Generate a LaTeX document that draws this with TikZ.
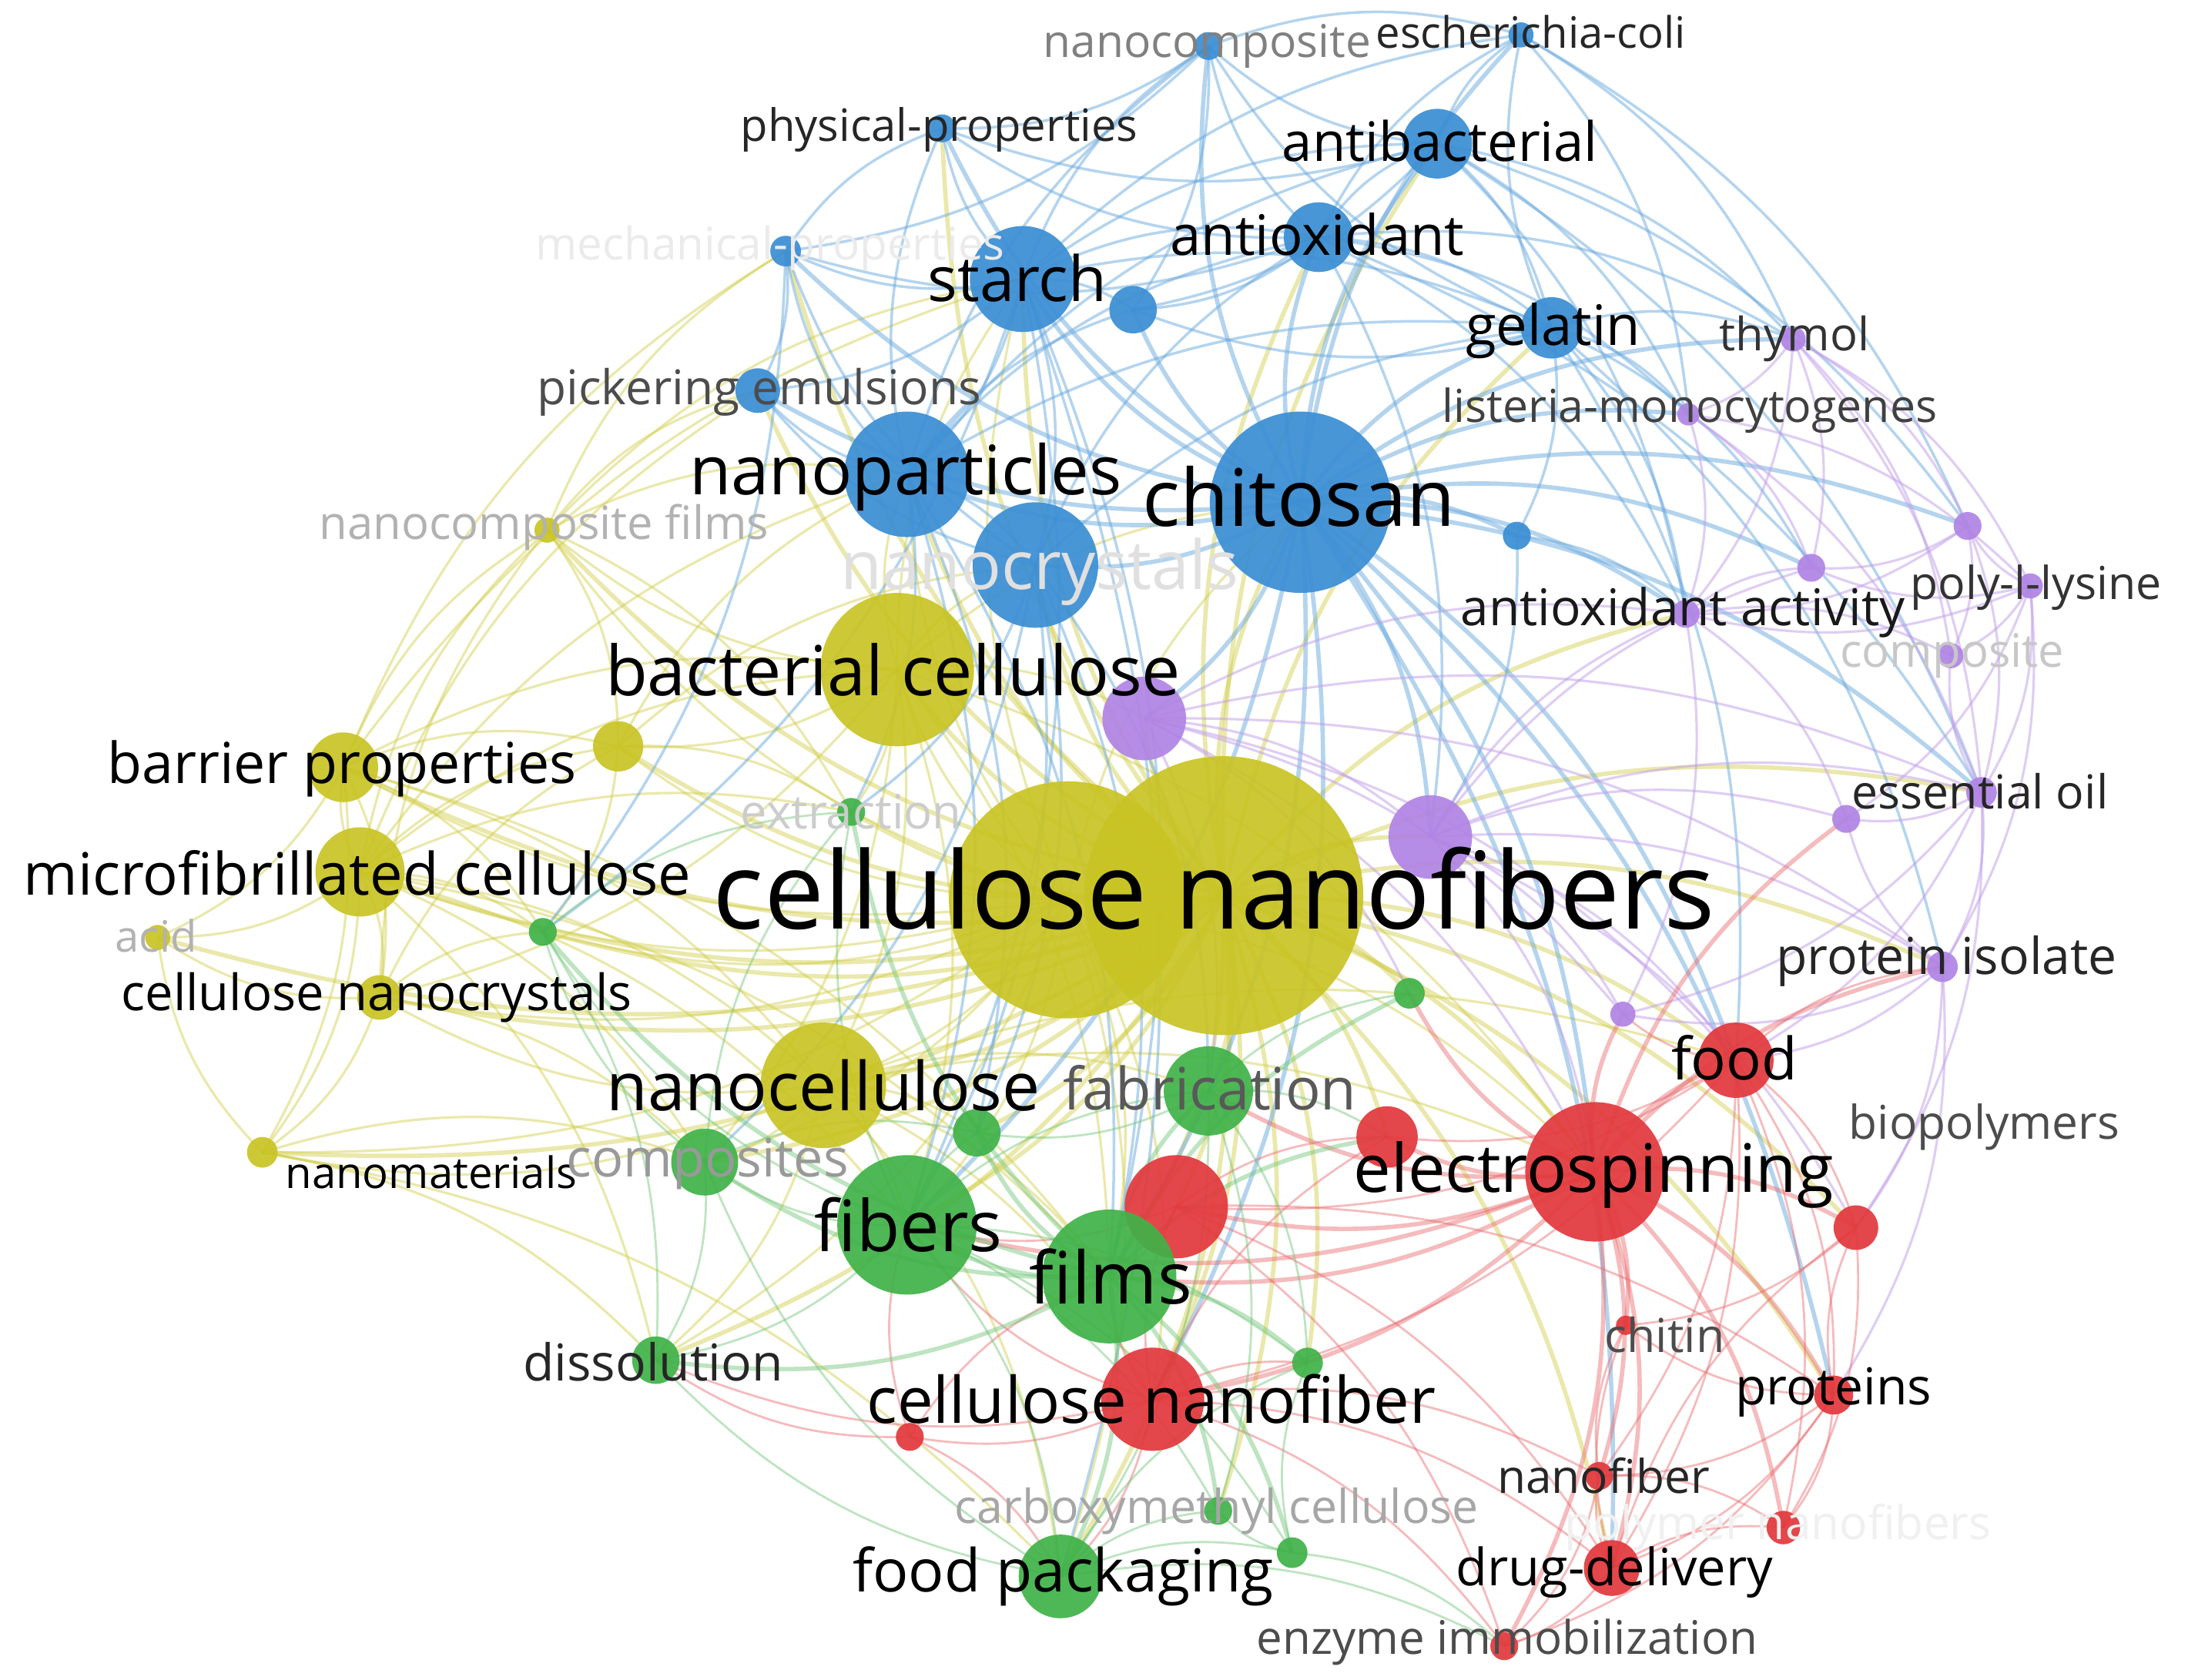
\documentclass[tikz,border=0pt]{standalone}
\usepackage{fontspec}
\setmainfont{Open Sans}
\usetikzlibrary{backgrounds}
\pgfdeclarelayer{bottom}
\pgfsetlayers{bottom,background,main}
\definecolor{cY}{RGB}{201,196,36}
\definecolor{cB}{RGB}{58,142,212}
\definecolor{cG}{RGB}{64,178,72}
\definecolor{cR}{RGB}{226,56,60}
\definecolor{cP}{RGB}{176,132,228}
\tikzset{
 kwn/.style={circle,inner sep=0pt,draw=none,fill opacity=0.92},
 lbl/.style={inner sep=0pt,anchor=center},
 eY/.style={draw=cY!85!white,opacity=0.45,line width=0.9pt},
 eB/.style={draw=cB!75!white,opacity=0.5,line width=1pt},
 eG/.style={draw=cG!75!white,opacity=0.45,line width=0.8pt},
 eR/.style={draw=cR!75!white,opacity=0.45,line width=0.8pt},
 eP/.style={draw=cP!80!white,opacity=0.5,line width=0.9pt},
 thick edge/.style={line width=1.6pt}
}
\newcommand\kw[4]{\node[kwn,fill=#4,minimum size=#3*0.03624cm] (#1) at (#2) {};}
\newcommand\lab[5]{\node[lbl,text=#4,font=\fontsize{#3pt}{#3pt}\selectfont] (l-#1) at (#2) {#5};}
\newcommand\edges[3]{\foreach \t in {#3} \draw[#2] (#1.center) to[bend left=18] (\t.center);}
\begin{document}
\begin{tikzpicture}[x=0.01812cm,y=-0.01812cm]
\begin{pgfonlayer}{bottom}
\fill[white] (0,0) rectangle (1568,1204);
\end{pgfonlayer}
\useasboundingbox (0,0) rectangle (1568,1204);
% ---- keyword nodes ----
% yellow
\kw{cnf2}{765,645}{85}{cY}
\kw{cnf}{877,642}{100}{cY}
\kw{bc}{643,480}{55}{cY}
\kw{nanocell}{590,778}{45}{cY}
\kw{mfc}{258,625}{32}{cY}
\kw{barrier}{246,550}{25}{cY}
\kw{yel1}{443,535}{18}{cY}
\kw{cnc}{272,715}{16}{cY}
\kw{nanomat}{188,826}{11}{cY}
\kw{acid}{113,672}{9}{cY}
\kw{ncfilms}{392,380}{9}{cY}
% blue
\kw{chitosan}{932,360}{65}{cB}
\kw{ncryst}{742,405}{45}{cB}
\kw{nanopart}{650,340}{45}{cB}
\kw{starch}{733,200}{38}{cB}
\kw{antiox}{945,170}{25}{cB}
\kw{antibac}{1030,103}{25}{cB}
\kw{gelatin}{1112,235}{22}{cB}
\kw{blu1}{812,222}{17}{cB}
\kw{pickering}{543,280}{16}{cB}
\kw{mech}{563,180}{11}{cB}
\kw{phys}{675,92}{10}{cB}
\kw{ncomp}{866,33}{10}{cB}
\kw{ecoli}{1090,25}{9}{cB}
\kw{blu2}{1087,384}{10}{cB}
% purple
\kw{pur1}{820,515}{30}{cP}
\kw{pur2}{1025,600}{30}{cP}
\kw{thymol}{1285,243}{9}{cP}
\kw{listeria}{1210,297}{8}{cP}
\kw{aoact}{1208,440}{10}{cP}
\kw{pll}{1455,420}{9}{cP}
\kw{pur3}{1410,377}{10}{cP}
\kw{pur4}{1298,407}{10}{cP}
\kw{composite}{1398,470}{9}{cP}
\kw{essoil}{1420,568}{11}{cP}
\kw{pur5}{1323,587}{10}{cP}
\kw{protiso}{1392,693}{11}{cP}
\kw{pur6}{1163,727}{9}{cP}
% red
\kw{electro}{1143,840}{50}{cR}
\kw{food}{1244,760}{27}{cR}
\kw{red1}{994,815}{22}{cR}
\kw{red2}{843,865}{37}{cR}
\kw{cnfiber}{826,1003}{37}{cR}
\kw{biopoly}{1330,880}{16}{cR}
\kw{chitin}{1165,950}{7}{cR}
\kw{proteins}{1314,1000}{14}{cR}
\kw{nanofiber}{1146,1058}{10}{cR}
\kw{drug}{1155,1124}{20}{cR}
\kw{polynf}{1278,1095}{12}{cR}
\kw{enzyme}{1078,1180}{10}{cR}
\kw{red3}{652,1030}{10}{cR}
% green
\kw{films}{795,915}{48}{cG}
\kw{fibers}{650,878}{50}{cG}
\kw{fabric}{866,782}{32}{cG}
\kw{foodpack}{760,1130}{30}{cG}
\kw{composites}{505,833}{24}{cG}
\kw{grn1}{700,812}{17}{cG}
\kw{dissol}{470,975}{17}{cG}
\kw{grn2}{389,668}{10}{cG}
\kw{extract}{610,582}{10}{cG}
\kw{grn3}{1010,712}{11}{cG}
\kw{grn4}{937,977}{11}{cG}
\kw{cmc}{873,1083}{10}{cG}
\kw{grn5}{926,1113}{11}{cG}
% ---- connectors ----
\begin{pgfonlayer}{background}
\edges{cnf}{eY,thick edge}{bc,nanocell,mfc,barrier,yel1,cnc,nanomat,acid,ncfilms,chitosan,ncryst,nanopart,starch,antiox,antibac,gelatin,pickering,mech,phys,pur1,pur2,aoact,essoil,protiso,electro,food,red1,red2,cnfiber,biopoly,proteins,drug,films,fibers,fabric,foodpack,composites,grn1,dissol,grn2,extract,grn3,grn4,cmc}
\edges{cnf2}{eY}{bc,nanocell,mfc,barrier,yel1,cnc,nanomat,ncfilms,chitosan,nanopart,starch,fibers,films,composites,dissol,grn2,electro,cnfiber,foodpack}
\edges{mfc}{eY}{barrier,yel1,cnc,nanomat,acid,ncfilms,bc,nanocell,grn2,composites,fibers,films,extract,pickering,dissol,nanopart}
\edges{barrier}{eY}{yel1,cnc,nanomat,acid,ncfilms,bc,nanocell,grn2,films,starch,mech}
\edges{bc}{eY}{yel1,ncfilms,nanocell,nanopart,ncryst,chitosan,starch,pur1,fibers,films,electro,composites,extract,cnc}
\edges{nanocell}{eY}{cnc,nanomat,fibers,films,composites,grn1,dissol,fabric,electro,food,cnfiber,foodpack}
\edges{cnc}{eY}{nanomat,acid,ncfilms,yel1,composites,grn2}
\edges{nanomat}{eY}{dissol,composites,acid,foodpack}
\edges{ncfilms}{eY}{yel1,nanopart,starch,mech,extract,pickering}
\edges{yel1}{eY}{ncryst,nanopart,grn2,extract}
\edges{chitosan}{eB,thick edge}{ncryst,nanopart,starch,antiox,antibac,gelatin,blu1,pickering,ncomp,ecoli,blu2,phys,mech,pur1,pur2,thymol,listeria,aoact,essoil,electro,food,films,fibers,cnfiber,drug,proteins,pur4,pur3}
\edges{starch}{eB}{nanopart,ncryst,antiox,antibac,gelatin,blu1,pickering,mech,phys,ncomp,ecoli,films,fibers,foodpack,grn2}
\edges{nanopart}{eB}{ncryst,antiox,antibac,pickering,mech,phys,blu1,gelatin,ncomp,fibers,films,extract,grn1}
\edges{ncryst}{eB}{antiox,pickering,mech,gelatin,films,fibers,composites,grn1,fabric,extract}
\edges{antiox}{eB}{antibac,gelatin,blu1,ncomp,ecoli,phys,mech,listeria,thymol,aoact,essoil,pur2}
\edges{antibac}{eB}{gelatin,ncomp,ecoli,phys,blu1,thymol,listeria,pur3,essoil,aoact}
\edges{gelatin}{eB}{ncomp,ecoli,blu1,thymol,listeria,aoact,pur4,blu2,food,protiso}
\edges{ncomp}{eB}{ecoli,phys,mech,blu1}
\edges{ecoli}{eB}{thymol,pur3,listeria}
\edges{mech}{eB}{phys,pickering,grn2}
\edges{blu2}{eB}{aoact,pur2}
\edges{pur1}{eP}{pur2,aoact,essoil,protiso,electro,food,fabric,grn3,pur6}
\edges{pur2}{eP}{aoact,essoil,pur5,protiso,pur6,food,electro,pur4,biopoly}
\edges{thymol}{eP}{listeria,pur3,pll,pur4,essoil,composite,aoact}
\edges{listeria}{eP}{aoact,pur4,pll,essoil}
\edges{pll}{eP}{pur3,pur4,composite,essoil,pur5,protiso,aoact}
\edges{pur3}{eP}{pur4,composite,essoil,aoact}
\edges{essoil}{eP}{pur5,protiso,composite,biopoly,food,pur6}
\edges{protiso}{eP}{pur5,pur6,food,biopoly,proteins}
\edges{aoact}{eP}{pur4,composite,pur5,pur6}
\edges{electro}{eR,thick edge}{food,red1,red2,cnfiber,biopoly,chitin,proteins,nanofiber,drug,polynf,enzyme,films,fibers,fabric,grn3,pur6,protiso,pur5}
\edges{food}{eR}{red1,biopoly,proteins,drug,nanofiber,polynf,pur6,protiso,red2,cnfiber}
\edges{cnfiber}{eR}{red2,red1,red3,drug,enzyme,nanofiber,films,fibers,foodpack,dissol,grn4}
\edges{red2}{eR}{red1,drug,enzyme,proteins,films,fibers}
\edges{proteins}{eR}{biopoly,nanofiber,drug,polynf,chitin,enzyme}
\edges{drug}{eR}{nanofiber,polynf,enzyme,chitin,biopoly}
\edges{nanofiber}{eR}{polynf,enzyme,chitin}
\edges{red3}{eR}{fibers,films,dissol,foodpack}
\edges{biopoly}{eR}{polynf,chitin}
\edges{films}{eG,thick edge}{fibers,fabric,foodpack,composites,grn1,dissol,grn2,extract,grn3,grn4,cmc,grn5,red1}
\edges{fibers}{eG}{fabric,foodpack,composites,grn1,dissol,grn2,extract,grn4,cmc,grn5}
\edges{fabric}{eG}{grn1,grn3,grn4,foodpack,cmc,red1}
\edges{foodpack}{eG}{cmc,grn5,grn4,dissol,composites,enzyme}
\edges{composites}{eG}{dissol,grn1,grn2,extract}
\edges{grn2}{eG}{extract,dissol}
\edges{grn5}{eG}{cmc,grn4,enzyme}
\end{pgfonlayer}
% ---- labels ----
\lab{cnf}{870,637}{39.6}{black}{cellulose nanofibers}
\lab{chitosan}{931,356}{29.3}{black}{chitosan}
\lab{electro}{1142,842}{24.7}{black}{electrospinning}
\lab{bc}{640,480}{25.5}{black}{bacterial cellulose}
\lab{nanopart}{649,342}{25.2}{black}{nanoparticles}
\lab{ncryst}{745,410}{25}{black!12}{nanocrystals}
\lab{starch}{729,199}{23.1}{black}{starch}
\lab{antiox}{944,168}{20.6}{black}{antioxidant}
\lab{antibac}{1032,101}{20.1}{black}{antibacterial}
\lab{gelatin}{1113,237}{20.6}{black}{gelatin}
\lab{ecoli}{1097,23}{16}{black!85}{escherichia-coli}
\lab{ncomp}{865,33}{16.7}{black!50}{nanocomposite}
\lab{phys}{673,93}{16.5}{black!85}{physical-properties}
\lab{mech}{552,178}{16.6}{black!8}{mechanical-properties}
\lab{pickering}{544,281}{17.7}{black!70}{pickering emulsions}
\lab{thymol}{1286,243}{17}{black!80}{thymol}
\lab{listeria}{1211,294}{16.8}{black!75}{listeria-monocytogenes}
\lab{ncfilms}{390,378}{17}{black!30}{nanocomposite films}
\lab{pll}{1459,421}{16.8}{black!80}{poly-l-lysine}
\lab{aoact}{1206,439}{18.7}{black!90}{antioxidant activity}
\lab{composite}{1399,470}{17}{black!22}{composite}
\lab{barrier}{245,551}{20.9}{black}{barrier properties}
\lab{extract}{610,582}{17.5}{black!20}{extraction}
\lab{essoil}{1419,567}{17.3}{black!85}{essential oil}
\lab{mfc}{256,626}{21.6}{black}{microfibrillated cellulose}
\lab{acid}{112,671}{16}{black!30}{acid}
\lab{cnc}{270,715}{18.5}{black}{cellulose nanocrystals}
\lab{protiso}{1395,689}{18.8}{black!85}{protein isolate}
\lab{food}{1243,758}{21.6}{black}{food}
\lab{nanocell}{590,778}{24.9}{black}{nanocellulose}
\lab{fabric}{867,780}{21.6}{black!65}{fabrication}
\lab{biopoly}{1422,808}{17.2}{black!70}{biopolymers}
\lab{nanomat}{309,840}{16}{black}{nanomaterials}
\lab{composites}{507,834}{19.5}{black!40}{composites}
\lab{fibers}{651,878}{26.2}{black}{fibers}
\lab{films}{796,915}{26.7}{black}{films}
\lab{chitin}{1193,957}{17.3}{black!70}{chitin}
\lab{dissol}{468,976}{18.8}{black!85}{dissolution}
\lab{proteins}{1314,998}{18.8}{black}{proteins}
\lab{cnfiber}{825,1003}{23.7}{black}{cellulose nanofiber}
\lab{nanofiber}{1149,1058}{17.2}{black!85}{nanofiber}
\lab{cmc}{872,1083}{17.3}{black!35}{carboxymethyl cellulose}
\lab{polynf}{1274,1095}{17.2}{black!6}{polymer nanofibers}
\lab{foodpack}{762,1130}{21.9}{black}{food packaging}
\lab{drug}{1157,1127}{19}{black}{drug-delivery}
\lab{enzyme}{1080,1177}{17.1}{black!70}{enzyme immobilization}
\end{tikzpicture}
\end{document}
